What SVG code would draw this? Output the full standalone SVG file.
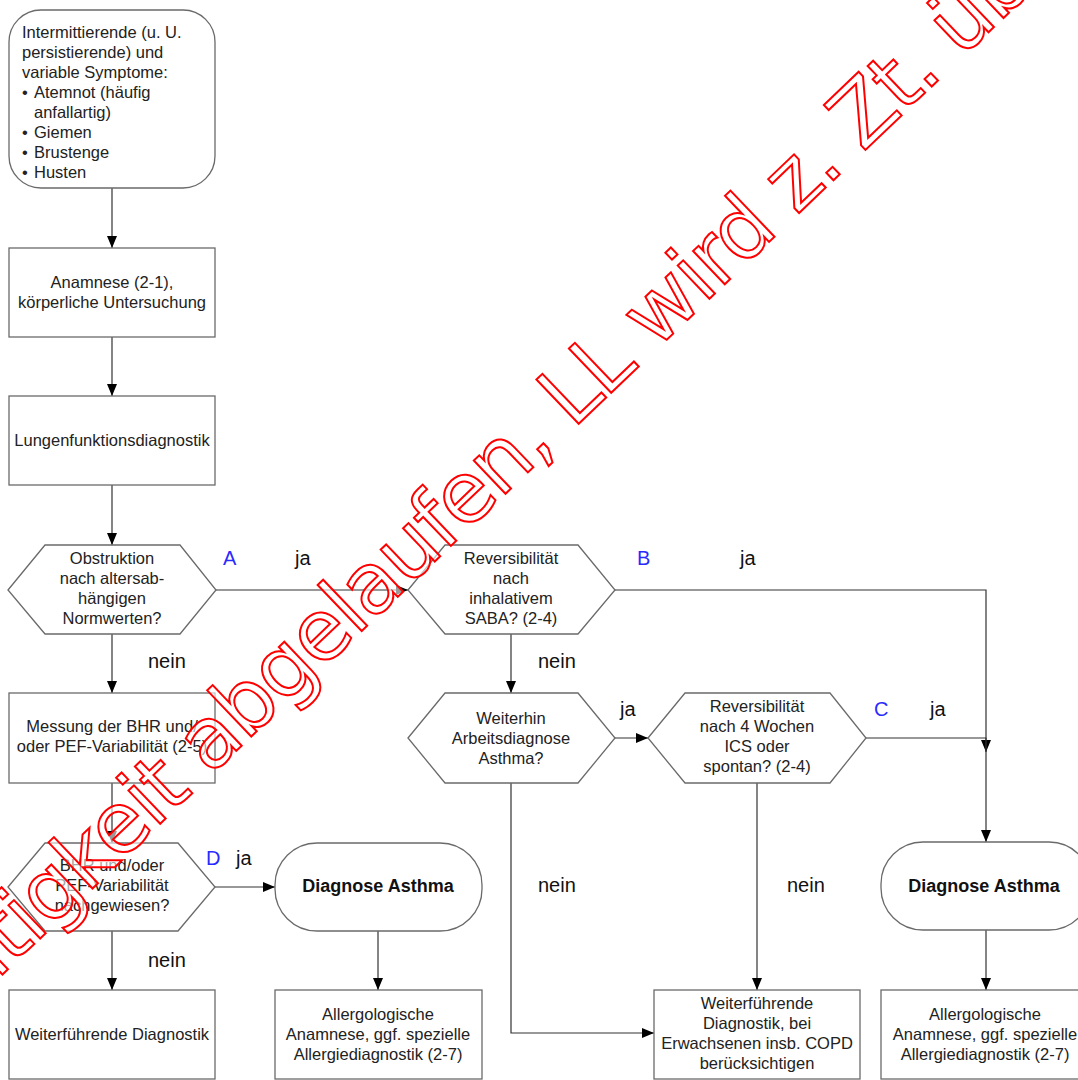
<svg xmlns="http://www.w3.org/2000/svg" width="1078" height="1080" viewBox="0 0 1078 1080">
<defs>
<marker id="arr" markerUnits="userSpaceOnUse" markerWidth="13" markerHeight="11" refX="12" refY="5" orient="auto">
<path d="M0,0 L12,5 L0,10 z" fill="#000"/>
</marker>
<style>
.n{fill:#fff;stroke:#6a6a6a;stroke-width:1.3}
.t{font-family:"Liberation Sans",Arial,sans-serif;font-size:16.5px;fill:#222;text-anchor:middle}
.tl{font-family:"Liberation Sans",Arial,sans-serif;font-size:16.5px;fill:#222}
.b{font-family:"Liberation Sans",Arial,sans-serif;font-size:18px;font-weight:bold;fill:#111;text-anchor:middle}
.lab{font-family:"Liberation Sans",Arial,sans-serif;font-size:20px;fill:#111}
.blue{fill:#2a2aff}
.c{fill:none;stroke:#333;stroke-width:1.2;marker-end:url(#arr)}
.wm{font-family:"DejaVu Sans",Verdana,sans-serif;font-size:84px;letter-spacing:-2px;fill:#fff;fill-opacity:0.6;stroke:#f00;stroke-width:2}
</style>
</defs>
<rect width="1078" height="1080" fill="#fff"/>

<g id="connectors">
<path class="c" d="M112,188 V248"/>
<path class="c" d="M112,337 V396"/>
<path class="c" d="M112,485 V545"/>
<path class="c" d="M216,590 H408"/>
<path class="c" d="M112,634 V693"/>
<path class="c" d="M615,590 H986 V752"/>
<path class="c" d="M511,634 V693"/>
<path class="c" d="M615,738 H648"/>
<path class="c" d="M866,738 H986 V842"/>
<path class="c" d="M511,783 V1033 H654"/>
<path class="c" d="M757,783 V990"/>
<path class="c" d="M112,783 V843"/>
<path class="c" d="M215,887 H275"/>
<path class="c" d="M112,931 V990"/>
<path class="c" d="M378,931 V990"/>
<path class="c" d="M986,930 V990"/>
</g>

<g id="labels">
<text class="lab blue" x="223" y="565">A</text>
<text class="lab" x="295" y="565">ja</text>
<text class="lab" x="148" y="668">nein</text>
<text class="lab blue" x="637" y="565">B</text>
<text class="lab" x="740" y="565">ja</text>
<text class="lab" x="538" y="668">nein</text>
<text class="lab" x="620" y="716">ja</text>
<text class="lab blue" x="874" y="716">C</text>
<text class="lab" x="930" y="716">ja</text>
<text class="lab blue" x="206" y="865">D</text>
<text class="lab" x="236" y="865">ja</text>
<text class="lab" x="148" y="967">nein</text>
<text class="lab" x="538" y="892">nein</text>
<text class="lab" x="787" y="892">nein</text>
</g>

<g id="n1">
<rect class="n" x="9" y="10" width="206" height="178" rx="32"/>
<text class="tl" x="22" y="37.5">Intermittierende (u. U.</text>
<text class="tl" x="22" y="57.6">persistierende) und</text>
<text class="tl" x="22" y="77.7">variable Symptome:</text>
<text class="tl" x="22" y="97.8">•</text><text class="tl" x="34" y="97.8">Atemnot (häufig</text>
<text class="tl" x="34" y="117.9">anfallartig)</text>
<text class="tl" x="22" y="138">•</text><text class="tl" x="34" y="138">Giemen</text>
<text class="tl" x="22" y="158.1">•</text><text class="tl" x="34" y="158.1">Brustenge</text>
<text class="tl" x="22" y="178.2">•</text><text class="tl" x="34" y="178.2">Husten</text>
</g>

<g id="n2">
<rect class="n" x="9" y="248" width="206" height="89"/>
<text class="t" x="112" y="288">Anamnese (2-1),</text>
<text class="t" x="112" y="308">körperliche Untersuchung</text>
</g>

<g id="n3">
<rect class="n" x="9" y="396" width="206" height="89"/>
<text class="t" x="112" y="446">Lungenfunktionsdiagnostik</text>
</g>

<g id="n4">
<polygon class="n" points="8,590 45,545 180,545 216,590 180,634 45,634"/>
<text class="t" x="112" y="564">Obstruktion</text>
<text class="t" x="112" y="584">nach altersab-</text>
<text class="t" x="112" y="604">hängigen</text>
<text class="t" x="112" y="624">Normwerten?</text>
</g>

<g id="n5">
<polygon class="n" points="408,590 445,545 578,545 615,590 578,634 445,634"/>
<text class="t" x="511" y="564">Reversibilität</text>
<text class="t" x="511" y="584">nach</text>
<text class="t" x="511" y="604">inhalativem</text>
<text class="t" x="511" y="624">SABA? (2-4)</text>
</g>

<g id="n6">
<polygon class="n" points="408,738 445,693 578,693 615,738 578,783 445,783"/>
<text class="t" x="511" y="724">Weiterhin</text>
<text class="t" x="511" y="744">Arbeitsdiagnose</text>
<text class="t" x="511" y="764">Asthma?</text>
</g>

<g id="n7">
<polygon class="n" points="648,738 685,693 830,693 866,738 830,783 685,783"/>
<text class="t" x="757" y="712">Reversibilität</text>
<text class="t" x="757" y="732">nach 4 Wochen</text>
<text class="t" x="757" y="752">ICS oder</text>
<text class="t" x="757" y="772">spontan? (2-4)</text>
</g>

<g id="n8">
<rect class="n" x="654" y="990" width="206" height="89"/>
<text class="t" x="757" y="1009">Weiterführende</text>
<text class="t" x="757" y="1029">Diagnostik, bei</text>
<text class="t" x="757" y="1049">Erwachsenen insb. COPD</text>
<text class="t" x="757" y="1069">berücksichtigen</text>
</g>

<g id="n9">
<rect class="n" x="9" y="693" width="206" height="90"/>
<text class="t" x="112" y="732">Messung der BHR und/</text>
<text class="t" x="112" y="752">oder PEF-Variabilität (2-5)</text>
</g>

<g id="n10">
<rect class="n" x="881" y="842" width="210" height="88" rx="42"/>
<text class="b" x="984" y="892">Diagnose Asthma</text>
</g>

<g id="n11">
<rect class="n" x="881" y="990" width="210" height="89"/>
<text class="t" x="985" y="1020">Allergologische</text>
<text class="t" x="985" y="1040">Anamnese, ggf. spezielle</text>
<text class="t" x="985" y="1060">Allergiediagnostik (2-7)</text>
</g>

<g id="n12">
<polygon class="n" points="8,887 45,843 178,843 215,887 178,931 45,931"/>
<text class="t" x="112" y="871">BHR und/oder</text>
<text class="t" x="112" y="891">PEF-Variabilität</text>
<text class="t" x="112" y="911">nachgewiesen?</text>
</g>

<g id="n13">
<rect class="n" x="275" y="843" width="207" height="88" rx="42"/>
<text class="b" x="378" y="892">Diagnose Asthma</text>
</g>

<g id="n14">
<rect class="n" x="275" y="990" width="207" height="89"/>
<text class="t" x="378" y="1020">Allergologische</text>
<text class="t" x="378" y="1040">Anamnese, ggf. spezielle</text>
<text class="t" x="378" y="1060">Allergiediagnostik (2-7)</text>
</g>

<g id="n15">
<rect class="n" x="9" y="990" width="206" height="89"/>
<text class="t" x="112" y="1040">Weiterführende Diagnostik</text>
</g>

<g id="watermark">
<text class="wm" transform="translate(-86,1059) rotate(-43.7)" x="0" y="0">Gültigkeit abgelaufen, LL wird z. Zt. überarbeitet</text>
</g>
</svg>
